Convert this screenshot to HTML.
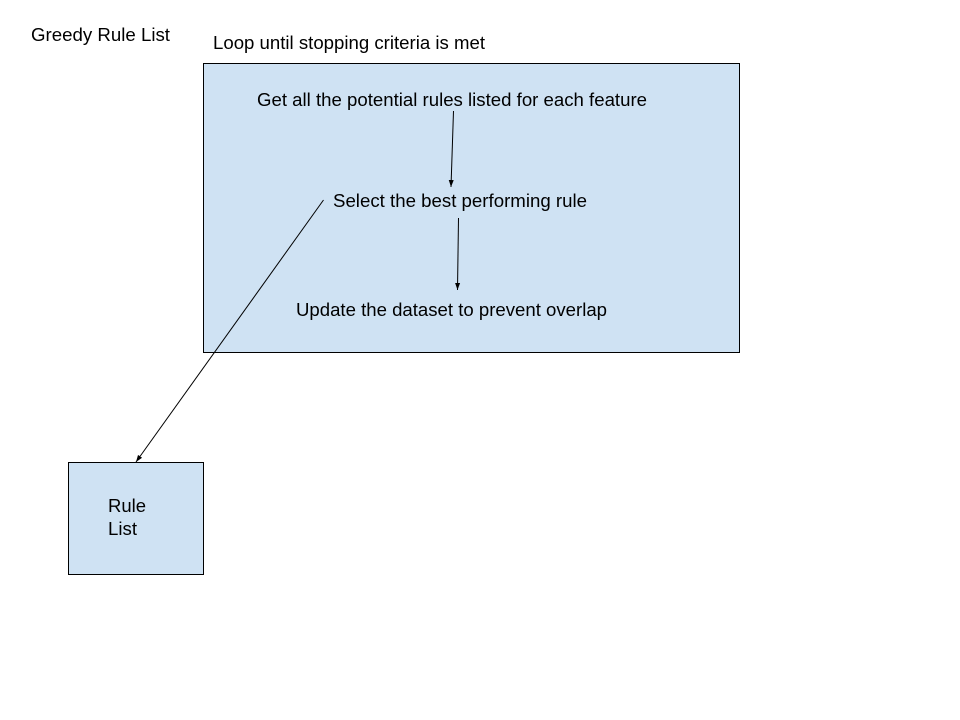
<!DOCTYPE html>
<html><head><meta charset="utf-8"><style>html,body{margin:0;padding:0;background:#fff}svg{display:block}</style></head>
<body>
<svg width="960" height="720" viewBox="0 0 960 720" xmlns="http://www.w3.org/2000/svg" font-family="Liberation Sans, Arial, sans-serif" font-size="18" fill="#000">
<defs><marker id="a" markerWidth="8" markerHeight="8" refX="7" refY="4" orient="auto" markerUnits="userSpaceOnUse"><path d="M0,1.5 L7,4 L0,6.5 z" fill="#000"/></marker></defs>
<rect x="0" y="0" width="960" height="720" fill="#fff"/>
<rect x="203.5" y="63.5" width="536" height="289" fill="#cfe2f3" stroke="#000" stroke-width="1"/>
<rect x="68.5" y="462.5" width="135" height="112" fill="#cfe2f3" stroke="#000" stroke-width="1"/>
<text x="31" y="41" textLength="139" lengthAdjust="spacingAndGlyphs">Greedy Rule List</text>
<text x="213" y="49" textLength="272" lengthAdjust="spacingAndGlyphs">Loop until stopping criteria is met</text>
<text x="257" y="106" textLength="390" lengthAdjust="spacingAndGlyphs">Get all the potential rules listed for each feature</text>
<text x="333" y="207" textLength="254" lengthAdjust="spacingAndGlyphs">Select the best performing rule</text>
<text x="296" y="316" textLength="311" lengthAdjust="spacingAndGlyphs">Update the dataset to prevent overlap</text>
<text x="108" y="512" textLength="38" lengthAdjust="spacingAndGlyphs">Rule</text>
<text x="108" y="535" textLength="29" lengthAdjust="spacingAndGlyphs">List</text>
<line x1="453.5" y1="111" x2="451" y2="187" stroke="#000" stroke-width="1" marker-end="url(#a)"/>
<line x1="458.5" y1="218" x2="457.5" y2="290" stroke="#000" stroke-width="1" marker-end="url(#a)"/>
<line x1="323.5" y1="200" x2="136" y2="462" stroke="#000" stroke-width="1" marker-end="url(#a)"/>
</svg>
</body></html>
